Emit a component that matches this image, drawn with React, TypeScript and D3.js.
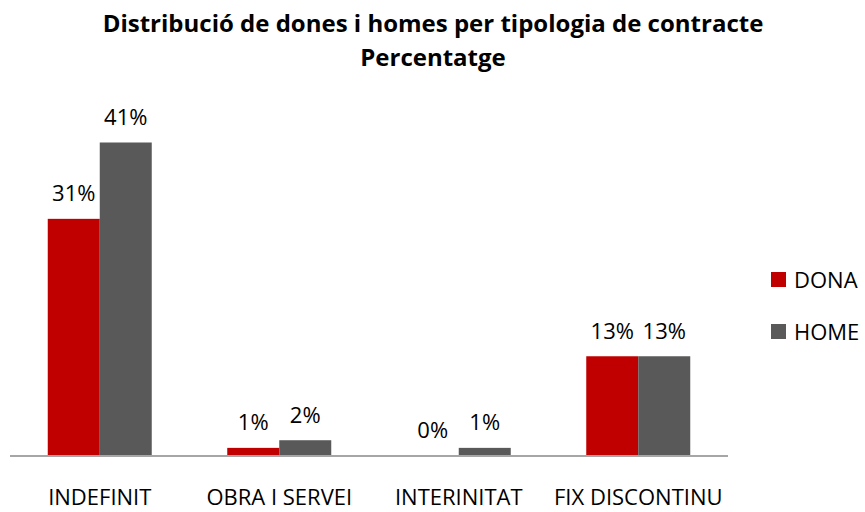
import React from "react";
import * as d3 from "d3";

const categories = ["INDEFINIT", "OBRA I SERVEI", "INTERINITAT", "FIX DISCONTINU"];
const seriesNames = ["DONA", "HOME"];
const donaValues = [31, 1, 0, 13];
const homeValues = [41, 2, 1, 13];
const colors = ["#c00000", "#595959"];
const titleLines = ["Distribució de dones i homes per tipologia de contracte", "Percentatge"];

const W = 865;
const H = 512;
const FONT = "'Open Sans', 'Noto Sans', sans-serif";

export default function App() {
  const x = d3.scaleBand<string>().domain(categories).range([10, 728]).paddingInner(0).paddingOuter(0);
  const xs = d3.scaleBand<string>().domain(seriesNames).range([0, x.bandwidth()]).paddingInner(0).paddingOuter(0.726);
  const y = d3.scaleLinear().domain([0, 41]).range([455.5, 142.5]);
  const values = [donaValues, homeValues];

  return (
    <svg width={W} height={H} style={{ position: "absolute", left: 0, top: 0, display: "block", background: "#fff" }} fontFamily={FONT}>
      <rect x={0} y={0} width={W} height={H} fill="#fff" />
      <text x={433} y={31.5} textAnchor="middle" fontSize={24} fontWeight="bold" fill="#000">{titleLines[0]}</text>
      <text x={433} y={65.7} textAnchor="middle" fontSize={24} fontWeight="bold" fill="#000">{titleLines[1]}</text>
      {seriesNames.map((s, si) => (
        <g key={s}>
          {categories.map((c, ci) => {
            const v = values[si][ci];
            const bx = (x(c) ?? 0) + (xs(s) ?? 0);
            const bw = xs.bandwidth();
            return (
              <g key={c}>
                <rect x={bx} y={y(v)} width={bw} height={y(0) - y(v)} fill={colors[si]} />
                <text x={bx + bw / 2} y={y(v) - 17.5} textAnchor="middle" fontSize={22} fill="#000">{`${v}%`}</text>
              </g>
            );
          })}
        </g>
      ))}
      <line x1={10} x2={728} y1={456} y2={456} stroke="#a6a6a6" strokeWidth={2} />
      {categories.map((c) => (
        <text key={c} x={(x(c) ?? 0) + x.bandwidth() / 2} y={505} textAnchor="middle" fontSize={22} fill="#000">{c}</text>
      ))}
      {seriesNames.map((s, si) => (
        <g key={s} transform={`translate(771, ${272 + si * 52})`}>
          <rect x={0} y={0} width={15} height={15} fill={colors[si]} />
          <text x={23} y={15.7} fontSize={22} fill="#000">{s}</text>
        </g>
      ))}
    </svg>
  );
}
